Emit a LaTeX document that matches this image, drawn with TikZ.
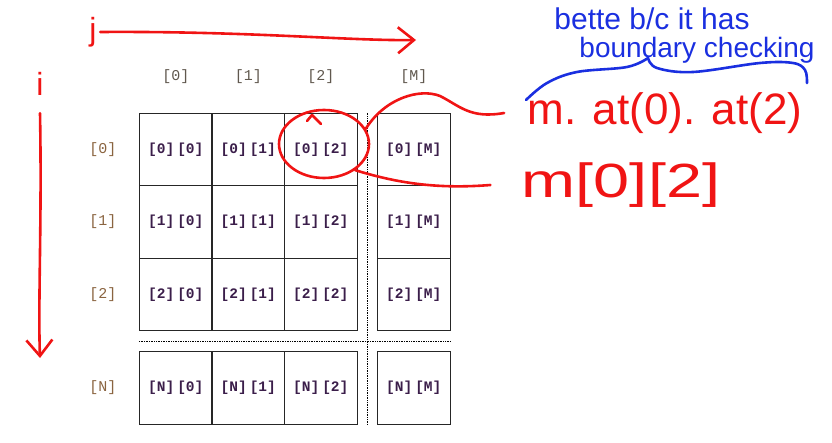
\documentclass[tikz,border=0pt]{standalone}
\usepackage{fontspec}
\setmainfont{Liberation Sans}
\newfontfamily\gridfont{Liberation Mono}
\usepackage{tikz}
\usetikzlibrary{arrows.meta, shapes.geometric, calc}

\definecolor{inkred}{HTML}{F01414}
\definecolor{inkblue}{HTML}{1A2FE0}
\definecolor{idxtext}{HTML}{3B1E4A}
\definecolor{colhdr}{HTML}{60584E}
\definecolor{rowhdr}{HTML}{8A6440}

\begin{document}
\begin{tikzpicture}[x=1pt, y=-1pt,
  cell/.style  = {draw=black!85, line width=0.9pt, minimum width=73pt,
                  minimum height=72.5pt, inner sep=0pt, text=idxtext,
                  font=\gridfont\fontsize{14.5}{16}\selectfont\bfseries},
  hdr/.style   = {font=\gridfont\fontsize{15}{17}\selectfont, text=colhdr},
  rhdr/.style  = {hdr, text=rowhdr},
  sep/.style   = {densely dotted, line width=0.7pt},
  ink/.style   = {inkred, line width=2.6pt, line cap=round, line join=round},
  iarr/.style  = {ink, -{Straight Barb[length=16pt, width=26pt]}},
  hand/.style  = {text=inkred, font=\fontsize{44}{48}\selectfont},
  note/.style  = {text=inkblue, inner sep=0pt, font=\fontsize{30}{32}\selectfont},
  blu/.style   = {inkblue, line width=2.6pt, line cap=round, line join=round},
]
\useasboundingbox (0,0) rectangle (832,443);

%% grid
\foreach \c/\x in {0/175.8, 1/248.3, 2/320.8, M/413.8}
  \node[hdr] (h\c) at (\x, 77) {[\c]};
\foreach \r/\y in {0/149.5, 1/222, 2/294.5, N/388} {
  \node[rhdr] (r\r) at (103, \y) {[\r]};
  \foreach \c/\x in {0/175.8, 1/248.3, 2/320.8, M/413.8}
    \node[cell] (c\r\c) at (\x, \y) {[\r]\hspace{3pt}[\c]};
}
\draw[sep] ($(c02.north east)!.5!(c0M.north west)$)
        -- ($(cN2.south east)!.5!(cNM.south west)$);
\draw[sep] ($(c20.south west)!.5!(cN0.north west)$)
        -- ($(c2M.south east)!.5!(cNM.north east)$);

%% index arrows
\node[hand, font=\fontsize{32}{34}\selectfont] (j) at (93,32) {j};
\coordinate (jend) at (416,40);
\draw[iarr] (j.east) .. controls (250,31) and (350,41) .. (jend);
\node[hand, font=\fontsize{32}{34}\selectfont] (i) at (40,84) {i};
\coordinate (iend) at (40,358);
\draw[iarr] ($(i.south)+(0,14)$) .. controls (42,220) and (38,300) .. (iend);

%% circled element
\node[ellipse, draw=inkred, line width=2.6pt, minimum width=90pt,
      minimum height=68pt] (ring) at (324,144) {};
\draw[ink] (307,121) -- (312,115) -- (321,124);

\node[hand] (at) at (665,113) {m. at(0). at(2)};
\node[hand, font=\fontsize{48}{52}\selectfont] (idx) at (621,185)
  {\scalebox{1.35}[1]{m[0][2]}};
\draw[ink] (ring.20) .. controls (385,98) and (420,88) .. (440,96)
  .. controls (460,106) and (470,119) .. ([xshift=-20pt]at.west);
\draw[ink] (ring.-40) .. controls (400,184) and (440,189)
  .. ([xshift=-28pt]idx.west);

%% note
\node[note] (n1) at (652,19) {bette b/c it has};
\node[note, font=\fontsize{28}{30}\selectfont] (n2) at (697,50) {boundary checking};
\draw[blu] plot[smooth, tension=0.6] coordinates
  {(526,100) (547,83) (577,72) (627,67) (648,58)};
\draw[blu] plot[smooth, tension=0.6] coordinates
  {(648,58) (657,68) (693,72) (760,63) (793,63) (805,70) (807,83)};

\end{tikzpicture}
\end{document}
